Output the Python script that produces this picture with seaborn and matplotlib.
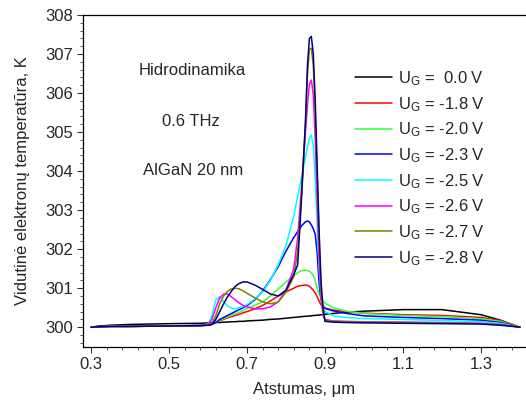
import pandas as pd
import matplotlib
matplotlib.use("Agg")
import matplotlib.pyplot as plt
from matplotlib.ticker import MultipleLocator, AutoMinorLocator
import seaborn as sns

# ---------------- data ----------------
distance = [0.30, 0.32, 0.35, 0.40, 0.50,
            0.58, 0.60, 0.61, 0.62, 0.63,
            0.64, 0.65, 0.66, 0.67, 0.68,
            0.69, 0.70, 0.72, 0.74, 0.76,
            0.78, 0.80, 0.82, 0.83, 0.84,
            0.85, 0.855, 0.86, 0.865, 0.87,
            0.875, 0.88, 0.885, 0.89, 0.895,
            0.90, 0.92, 0.95, 1.00, 1.10,
            1.20, 1.30, 1.35, 1.38, 1.40]

t_00 = [300.00, 300.03, 300.05, 300.07, 300.09,
        300.10, 300.11, 300.11, 300.12, 300.12,
        300.13, 300.13, 300.14, 300.14, 300.15,
        300.15, 300.16, 300.17, 300.18, 300.20,
        300.21, 300.23, 300.25, 300.26, 300.27,
        300.28, 300.28, 300.29, 300.29, 300.30,
        300.30, 300.31, 300.31, 300.32, 300.32,
        300.33, 300.35, 300.38, 300.41, 300.45,
        300.45, 300.32, 300.18, 300.07, 300.00]

t_18 = [300.00, 300.01, 300.02, 300.02, 300.03,
        300.04, 300.06, 300.08, 300.12, 300.17,
        300.20, 300.24, 300.27, 300.30, 300.33,
        300.37, 300.40, 300.47, 300.56, 300.67,
        300.80, 300.90, 301.00, 301.05, 301.07,
        301.08, 301.07, 301.05, 301.00, 300.95,
        300.88, 300.78, 300.66, 300.57, 300.52,
        300.49, 300.44, 300.40, 300.36, 300.32,
        300.30, 300.25, 300.17, 300.07, 300.00]

t_20 = [300.00, 300.01, 300.02, 300.02, 300.03,
        300.04, 300.06, 300.08, 300.12, 300.18,
        300.22, 300.26, 300.30, 300.34, 300.38,
        300.43, 300.48, 300.56, 300.65, 300.80,
        300.98, 301.16, 301.32, 301.40, 301.45,
        301.46, 301.45, 301.43, 301.40, 301.32,
        301.20, 301.00, 300.85, 300.75, 300.68,
        300.62, 300.50, 300.42, 300.35, 300.30,
        300.27, 300.22, 300.15, 300.06, 300.00]

t_23 = [300.00, 300.01, 300.02, 300.02, 300.03,
        300.04, 300.05, 300.07, 300.12, 300.20,
        300.25, 300.30, 300.35, 300.40, 300.45,
        300.50, 300.55, 300.70, 300.92, 301.22,
        301.55, 301.95, 302.30, 302.45, 302.60,
        302.70, 302.72, 302.70, 302.62, 302.52,
        302.38, 301.90, 301.10, 300.70, 300.55,
        300.48, 300.42, 300.36, 300.29, 300.25,
        300.22, 300.18, 300.12, 300.05, 300.00]

t_25 = [300.00, 300.01, 300.02, 300.02, 300.03,
        300.05, 300.08, 300.30, 300.70, 300.78,
        300.65, 300.55, 300.49, 300.47, 300.50,
        300.53, 300.58, 300.72, 300.90, 301.20,
        301.60, 302.10, 302.85, 303.35, 303.85,
        304.35, 304.62, 304.85, 304.92, 304.65,
        303.80, 302.60, 301.50, 300.80, 300.50,
        300.40, 300.30, 300.25, 300.22, 300.20,
        300.17, 300.14, 300.10, 300.04, 300.00]

t_26 = [300.00, 300.01, 300.02, 300.02, 300.03,
        300.05, 300.08, 300.20, 300.50, 300.75,
        300.85, 300.85, 300.78, 300.70, 300.62,
        300.56, 300.52, 300.47, 300.47, 300.52,
        300.65, 300.95, 301.50, 302.30, 303.60,
        305.00, 305.70, 306.22, 306.33, 305.95,
        304.80, 303.20, 301.70, 300.75, 300.30,
        300.20, 300.16, 300.15, 300.14, 300.13,
        300.12, 300.10, 300.07, 300.03, 300.00]

t_27 = [300.00, 300.01, 300.02, 300.02, 300.03,
        300.04, 300.06, 300.10, 300.30, 300.60,
        300.80, 300.92, 300.98, 301.00, 300.98,
        300.93, 300.87, 300.75, 300.65, 300.60,
        300.64, 300.90, 301.30, 301.95, 303.40,
        305.20, 306.45, 307.12, 307.15, 306.70,
        305.50, 303.90, 302.20, 300.95, 300.35,
        300.18, 300.15, 300.14, 300.13, 300.12,
        300.11, 300.09, 300.06, 300.03, 300.00]

t_28 = [300.00, 300.01, 300.02, 300.02, 300.03,
        300.04, 300.05, 300.07, 300.20, 300.40,
        300.60, 300.78, 300.92, 301.05, 301.12,
        301.16, 301.16, 301.08, 300.97, 300.85,
        300.80, 300.95, 301.35, 301.60, 303.35,
        305.30, 306.70, 307.40, 307.45, 307.00,
        305.80, 304.10, 302.45, 301.15, 300.50,
        300.15, 300.13, 300.12, 300.11, 300.10,
        300.09, 300.08, 300.05, 300.02, 300.00]

labels = [r"$\mathregular{U_G}$ =  0.0 V", r"$\mathregular{U_G}$ = -1.8 V",
          r"$\mathregular{U_G}$ = -2.0 V", r"$\mathregular{U_G}$ = -2.3 V",
          r"$\mathregular{U_G}$ = -2.5 V", r"$\mathregular{U_G}$ = -2.6 V",
          r"$\mathregular{U_G}$ = -2.7 V", r"$\mathregular{U_G}$ = -2.8 V"]
series = [t_00, t_18, t_20, t_23, t_25, t_26, t_27, t_28]
colors = ["#000000", "#ff0000", "#33ff33", "#0000ff",
          "#00ffff", "#ff00ff", "#808000", "#000080"]

# long-form table for seaborn
frames = [pd.DataFrame({"x": distance, "T": s, "label": lab})
          for s, lab in zip(series, labels)]
df = pd.concat(frames, ignore_index=True)

# ---------------- plotting ----------------
sns.set_style("ticks")
plt.rcParams["font.family"] = ["Liberation Sans", "DejaVu Sans"]
plt.rcParams["mathtext.default"] = "regular"

fig = plt.figure(figsize=(5.26, 4.05), dpi=100)
ax = fig.add_axes([0.158, 0.143, 0.84, 0.82])

sns.lineplot(data=df, x="x", y="T", hue="label", hue_order=labels,
             palette=colors, estimator=None, sort=False, linewidth=1.1,
             ax=ax)

ax.set_xlim(0.2795, 1.413)
ax.set_ylim(299.49, 308)
ax.xaxis.set_major_locator(MultipleLocator(0.2))
ax.xaxis.set_minor_locator(AutoMinorLocator(5))
ax.yaxis.set_major_locator(MultipleLocator(1))
ax.yaxis.set_minor_locator(AutoMinorLocator(5))
ax.set_xticks([0.3, 0.5, 0.7, 0.9, 1.1, 1.3])
ax.set_xticklabels(["0.3", "0.5", "0.7", "0.9", "1.1", "1.3"])
ax.tick_params(which="major", direction="out", length=4, width=0.8,
               labelsize=12, color="#333333", pad=3)
ax.tick_params(which="minor", direction="out", length=2.2, width=0.7,
               color="#555555")

ax.spines["right"].set_visible(False)
for s in ["left", "bottom", "top"]:
    ax.spines[s].set_linewidth(0.9)
    ax.spines[s].set_color("black")

ax.set_xlabel("Atstumas, μm", fontsize=12, labelpad=7)
ax.set_ylabel("Vidutinė elektronų temperatūra, K", fontsize=12, labelpad=11)

ax.text(0.248, 0.834, "Hidrodinamika", transform=ax.transAxes,
        ha="center", va="center", fontsize=12)
ax.text(0.243, 0.678, "0.6 THz", transform=ax.transAxes,
        ha="center", va="center", fontsize=12)
ax.text(0.249, 0.533, "AlGaN 20 nm", transform=ax.transAxes,
        ha="center", va="center", fontsize=12)

handles, labs = ax.get_legend_handles_labels()
ax.legend(handles, labs, loc="upper left", bbox_to_anchor=(0.615, 0.837),
          frameon=False, fontsize=12, handlelength=2.2, handletextpad=0.4,
          labelspacing=0.42, borderpad=0, borderaxespad=0)

fig.savefig("out.png", dpi=100)
